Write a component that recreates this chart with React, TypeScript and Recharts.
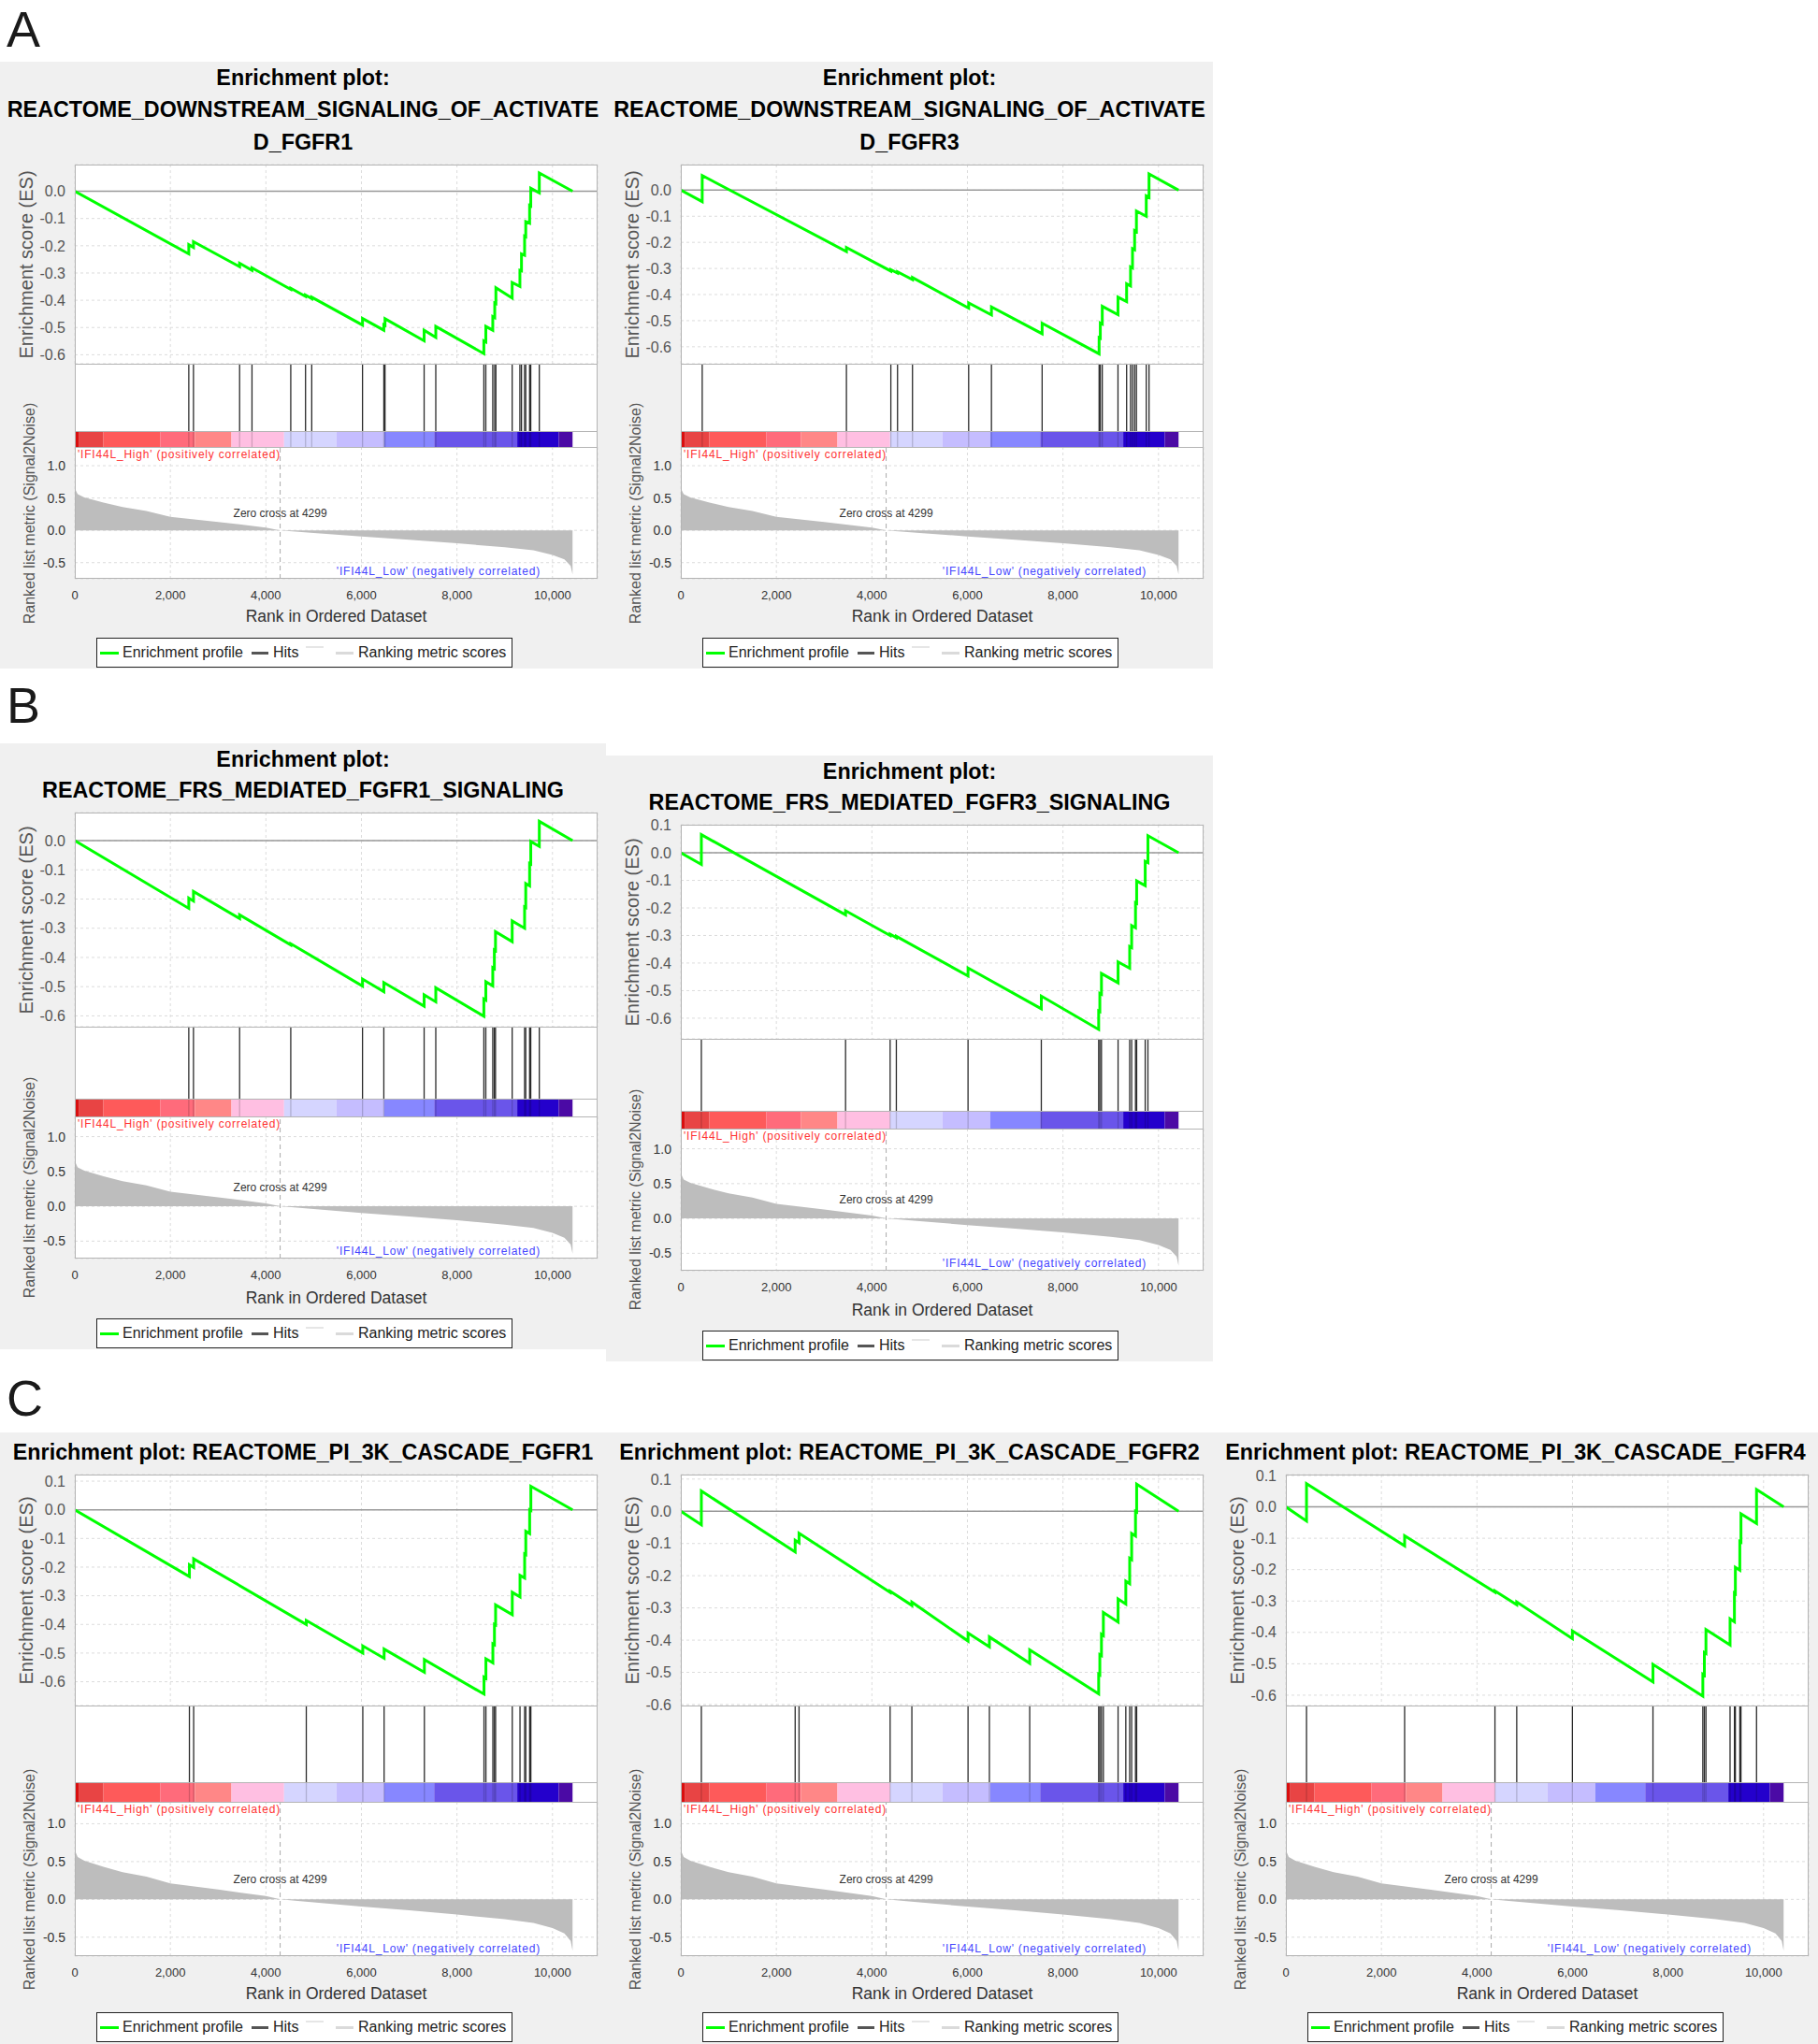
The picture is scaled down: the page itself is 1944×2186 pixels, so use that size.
import React from 'react';
import {
  ComposedChart,
  Line,
  Area,
  XAxis,
  YAxis,
  CartesianGrid,
  ReferenceLine,
  ReferenceArea,
} from 'recharts';

const FONT = "'Liberation Sans', Arial, Helvetica, sans-serif";

// shared ranked list (same dataset behind every panel)
const rankMax = 10944;
const rankTicks = [0, 2000, 4000, 6000, 8000, 10000];
const zeroCross = 4299;

const metricRanks = [0, 60, 200, 600, 1000, 1500, 2000, 3000, 4000, 4299, 5000, 6000, 7000, 8000, 9000, 9600, 10000, 10250, 10380, 10420];
const metricValues = [0.65, 0.56, 0.51, 0.43, 0.36, 0.3, 0.21, 0.13, 0.043, 0, -0.04, -0.095, -0.145, -0.2, -0.263, -0.31, -0.38, -0.45, -0.55, -0.68];
const metricTicks = [1.0, 0.5, 0.0, -0.5];
const metricDomain = [-0.75, 1.29];

// colour bar under the hits
const barEdges = [0, 92, 599, 1787, 2512, 3279, 4381, 5474, 6480, 7523, 9262, 10131, 10420];
const barColors = ['#d90f0f', '#e84444', '#fe5a5a', '#ff6b7b', '#ff8787', '#ffbfe2', '#d5d5ff', '#c5bdff', '#8787ff', '#6a55ea', '#2400cc', '#4b0aa5'];

const esTicksLow = [0, -0.1, -0.2, -0.3, -0.4, -0.5, -0.6];
const esTicksHigh = [0.1, 0, -0.1, -0.2, -0.3, -0.4, -0.5, -0.6];

// A: DOWNSTREAM_SIGNALING_OF_ACTIVATED_FGFR1
const a1Hits = [2386, 2484, 3450, 3709, 4521, 4830, 4960, 6023, 6469, 6494, 7313, 7557, 8563, 8604, 8750, 8791, 8815, 9156, 9318, 9351, 9416, 9440, 9521, 9545, 9724];
const a1Es = [
  [0, 0], [2386, -0.23], [2386, -0.196], [2484, -0.206], [2484, -0.185], [3450, -0.277], [3450, -0.264],
  [3709, -0.29], [3709, -0.281], [4521, -0.36], [4521, -0.356], [4830, -0.386], [4830, -0.381],
  [4960, -0.394], [4960, -0.389], [6023, -0.491], [6023, -0.467], [6469, -0.51], [6469, -0.49],
  [6494, -0.492], [6494, -0.468], [7313, -0.549], [7313, -0.51], [7557, -0.536], [7557, -0.496],
  [8563, -0.596], [8563, -0.549], [8604, -0.553], [8604, -0.496], [8750, -0.51], [8750, -0.46],
  [8791, -0.464], [8791, -0.41], [8815, -0.412], [8815, -0.354], [9156, -0.392], [9156, -0.335],
  [9318, -0.349], [9318, -0.29], [9351, -0.292], [9351, -0.23], [9416, -0.235], [9416, -0.165],
  [9440, -0.167], [9440, -0.111], [9521, -0.117], [9521, -0.052], [9545, -0.054], [9545, 0.011],
  [9724, -0.006], [9724, 0.067], [10420, 0],
];

// A: DOWNSTREAM_SIGNALING_OF_ACTIVATED_FGFR3
const a2Hits = [448, 3467, 4397, 4537, 4850, 6026, 6503, 7564, 8757, 8782, 8823, 9152, 9333, 9415, 9456, 9500, 9538, 9744, 9802];
const a2Es = [
  [0, 0], [448, -0.044], [448, 0.056], [3467, -0.235], [3467, -0.22], [4397, -0.31], [4397, -0.305],
  [4537, -0.318], [4537, -0.313], [4850, -0.343], [4850, -0.335], [6026, -0.452], [6026, -0.432],
  [6503, -0.478], [6503, -0.447], [7564, -0.55], [7564, -0.51], [8757, -0.627], [8757, -0.565],
  [8782, -0.567], [8782, -0.509], [8823, -0.513], [8823, -0.445], [9152, -0.477], [9152, -0.41],
  [9333, -0.427], [9333, -0.359], [9415, -0.367], [9415, -0.294], [9456, -0.298], [9456, -0.224],
  [9500, -0.228], [9500, -0.155], [9538, -0.159], [9538, -0.08], [9744, -0.1], [9744, -0.022],
  [9802, -0.028], [9802, 0.062], [10420, 0],
];

// B: FRS_MEDIATED_FGFR1_SIGNALING
const b1Hits = [2386, 2484, 3450, 4521, 6023, 6469, 7313, 7557, 8563, 8604, 8750, 8783, 8807, 9156, 9416, 9440, 9521, 9545, 9724];
const b1Es = [
  [0, 0], [2386, -0.232], [2386, -0.197], [2484, -0.207], [2484, -0.174], [3450, -0.267], [3450, -0.254],
  [4521, -0.357], [4521, -0.353], [6023, -0.498], [6023, -0.474], [6469, -0.517], [6469, -0.486],
  [7313, -0.567], [7313, -0.528], [7557, -0.552], [7557, -0.504], [8563, -0.601], [8563, -0.542],
  [8604, -0.546], [8604, -0.483], [8750, -0.497], [8750, -0.435], [8783, -0.438], [8783, -0.374],
  [8807, -0.376], [8807, -0.312], [9156, -0.346], [9156, -0.275], [9416, -0.3], [9416, -0.227],
  [9440, -0.229], [9440, -0.147], [9521, -0.155], [9521, -0.078], [9545, -0.08], [9545, -0.003],
  [9724, -0.02], [9724, 0.066], [10420, 0],
];

// B: FRS_MEDIATED_FGFR3_SIGNALING
const b2Hits = [430, 3449, 4382, 4512, 6013, 7547, 8748, 8772, 8806, 9154, 9397, 9438, 9519, 9543, 9722, 9779];
const b2Es = [
  [0, 0], [430, -0.042], [430, 0.066], [3449, -0.225], [3449, -0.21], [4382, -0.3], [4382, -0.295],
  [4512, -0.308], [4512, -0.303], [6013, -0.447], [6013, -0.418], [7547, -0.566], [7547, -0.52],
  [8748, -0.641], [8748, -0.574], [8772, -0.576], [8772, -0.51], [8806, -0.513], [8806, -0.438],
  [9154, -0.472], [9154, -0.396], [9397, -0.419], [9397, -0.34], [9438, -0.344], [9438, -0.264],
  [9519, -0.272], [9519, -0.181], [9543, -0.183], [9543, -0.102], [9722, -0.119], [9722, -0.031],
  [9779, -0.036], [9779, 0.062], [10420, 0],
];

// C: PI_3K_CASCADE_FGFR1
const c1Hits = [2399, 2488, 4846, 6029, 6475, 7318, 8566, 8606, 8752, 8785, 8809, 9158, 9320, 9417, 9441, 9522, 9547];
const c1Es = [
  [0, 0], [2399, -0.233], [2399, -0.192], [2488, -0.201], [2488, -0.171], [4846, -0.4], [4846, -0.386],
  [6029, -0.5], [6029, -0.475], [6475, -0.518], [6475, -0.486], [7318, -0.567], [7318, -0.523],
  [8566, -0.643], [8566, -0.584], [8606, -0.588], [8606, -0.52], [8752, -0.534], [8752, -0.468],
  [8785, -0.471], [8785, -0.4], [8809, -0.402], [8809, -0.332], [9158, -0.366], [9158, -0.288],
  [9320, -0.304], [9320, -0.229], [9417, -0.238], [9417, -0.154], [9441, -0.156], [9441, -0.075],
  [9522, -0.083], [9522, 0], [9547, -0.002], [9547, 0.082], [10420, 0],
];

// C: PI_3K_CASCADE_FGFR2
const c2Hits = [430, 2394, 2475, 4382, 4837, 6013, 6460, 7304, 8748, 8772, 8806, 8846, 9154, 9316, 9397, 9438, 9519, 9543];
const c2Es = [
  [0, 0], [430, -0.042], [430, 0.063], [2394, -0.126], [2394, -0.09], [2475, -0.098], [2475, -0.068],
  [4382, -0.252], [4382, -0.248], [4837, -0.292], [4837, -0.282], [6013, -0.403], [6013, -0.378],
  [6460, -0.421], [6460, -0.39], [7304, -0.472], [7304, -0.43], [8748, -0.567], [8748, -0.506],
  [8772, -0.508], [8772, -0.445], [8806, -0.448], [8806, -0.382], [8846, -0.386], [8846, -0.314],
  [9154, -0.344], [9154, -0.272], [9316, -0.288], [9316, -0.217], [9397, -0.225], [9397, -0.146],
  [9438, -0.15], [9438, -0.069], [9519, -0.077], [9519, 0], [9543, -0.002], [9543, 0.084], [10420, 0],
];

// C: PI_3K_CASCADE_FGFR4
const c3Hits = [432, 2486, 4377, 4833, 5998, 7685, 8729, 8761, 8794, 9299, 9390, 9410, 9503, 9527, 9853];
const c3Es = [
  [0, 0], [432, -0.045], [432, 0.074], [2486, -0.124], [2486, -0.092], [4377, -0.272], [4377, -0.268],
  [4833, -0.312], [4833, -0.303], [5998, -0.42], [5998, -0.395], [7685, -0.558], [7685, -0.502],
  [8729, -0.603], [8729, -0.533], [8761, -0.536], [8761, -0.464], [8794, -0.467], [8794, -0.391],
  [9299, -0.44], [9299, -0.357], [9390, -0.366], [9390, -0.275], [9410, -0.277], [9410, -0.193],
  [9503, -0.202], [9503, -0.11], [9527, -0.112], [9527, -0.022], [9853, -0.053], [9853, 0.055], [10420, 0],
];

// vertical layout inside a panel, by title height
const layouts = {
  three: { titleY: [17, 51, 86], esTop: 110, esBot: 323, hitsBot: 395, cbBot: 412, metBot: 553, xlabY: 593, legTop: 616, h: 649 },
  two: { titleY: [17, 50], esTop: 74, esBot: 303, hitsBot: 380, cbBot: 399, metBot: 551, xlabY: 593, legTop: 615, h: 648 },
  one: { titleY: [21], esTop: 45, esBot: 292, hitsBot: 374, cbBot: 395, metBot: 560, xlabY: 600, legTop: 620, h: 654 },
};

const panels = [
  { x: 0, y: 66, w: 648, dx: 0, layout: 'three', title: ['Enrichment plot:', 'REACTOME_DOWNSTREAM_SIGNALING_OF_ACTIVATE', 'D_FGFR1'], hits: a1Hits, es: a1Es, esDomain: [-0.633, 0.098], esTicks: esTicksLow },
  { x: 648, y: 66, w: 649, dx: 0, layout: 'three', title: ['Enrichment plot:', 'REACTOME_DOWNSTREAM_SIGNALING_OF_ACTIVATE', 'D_FGFR3'], hits: a2Hits, es: a2Es, esDomain: [-0.665, 0.098], esTicks: esTicksLow },
  { x: 0, y: 795, w: 648, dx: 0, layout: 'two', title: ['Enrichment plot:', 'REACTOME_FRS_MEDIATED_FGFR1_SIGNALING'], hits: b1Hits, es: b1Es, esDomain: [-0.637, 0.096], esTicks: esTicksLow },
  { x: 648, y: 808, w: 649, dx: 0, layout: 'two', title: ['Enrichment plot:', 'REACTOME_FRS_MEDIATED_FGFR3_SIGNALING'], hits: b2Hits, es: b2Es, esDomain: [-0.675, 0.102], esTicks: esTicksHigh },
  { x: 0, y: 1532, w: 648, dx: 0, layout: 'one', title: ['Enrichment plot: REACTOME_PI_3K_CASCADE_FGFR1'], hits: c1Hits, es: c1Es, esDomain: [-0.683, 0.123], esTicks: esTicksHigh },
  { x: 648, y: 1532, w: 649, dx: 0, layout: 'one', title: ['Enrichment plot: REACTOME_PI_3K_CASCADE_FGFR2'], hits: c2Hits, es: c2Es, esDomain: [-0.603, 0.114], esTicks: esTicksHigh },
  { x: 1297, y: 1532, w: 647, dx: -2, layout: 'one', title: ['Enrichment plot: REACTOME_PI_3K_CASCADE_FGFR4'], hits: c3Hits, es: c3Es, esDomain: [-0.633, 0.103], esTicks: esTicksHigh },
];

const panelLetters = [
  { text: 'A', top: 4 },
  { text: 'B', top: 727 },
  { text: 'C', top: 1468 },
];

const PLOT_L = 80;
const PLOT_R = 639;
const BORDER = '#b4b4b4';
const PAD = 12;

const metricData = metricRanks.map((rank, i) => ({ rank, m: metricValues[i] }));

function RotLabel({ cx, cy, size, text }: { cx: number; cy: number; size: number; text: string }) {
  return (
    <div
      style={{
        position: 'absolute',
        left: cx - 160,
        top: cy - size / 2,
        width: 320,
        height: size,
        lineHeight: `${size}px`,
        fontSize: size,
        color: '#555',
        textAlign: 'center',
        whiteSpace: 'nowrap',
        transform: 'rotate(-90deg)',
      }}
    >
      {text}
    </div>
  );
}

function GseaPanel({ p }: { p: any }) {
  const L = layouts[p.layout as keyof typeof layouts];
  const pl = PLOT_L + p.dx;
  const pr = PLOT_R + p.dx;
  const rightM = p.w - pr;
  const esData = p.es.map(([rank, es]: number[]) => ({ rank, es }));
  const hitData = p.hits.map((rank: number) => ({ rank, v: 0.5 }));
  const cbFrac = (L.cbBot - L.hitsBot) / (L.cbBot - L.esBot);
  const plotW = pr - pl;

  return (
    <div style={{ position: 'absolute', left: p.x, top: p.y, width: p.w, height: L.h, background: '#f0f0f0', fontFamily: FONT }}>
      {p.title.map((t: string, i: number) => (
        <div
          key={i}
          style={{
            position: 'absolute',
            left: -20,
            width: p.w + 40,
            top: L.titleY[i] - 12,
            textAlign: 'center',
            fontSize: 24,
            fontWeight: 700,
            lineHeight: '24px',
            whiteSpace: 'nowrap',
            color: '#000',
            transform: 'scaleX(0.972)',
          }}
        >
          {t}
        </div>
      ))}

      {/* white plot backgrounds */}
      <div style={{ position: 'absolute', left: pl, top: L.esTop, width: plotW, height: L.metBot - L.esTop, background: '#fff' }} />

      {/* Enrichment score */}
      <div style={{ position: 'absolute', left: 0, top: L.esTop - PAD }}>
        <ComposedChart width={p.w} height={L.esBot - L.esTop + 2 * PAD} data={esData} margin={{ top: PAD, right: rightM, bottom: PAD, left: pl - 60 }}>
          <CartesianGrid stroke="#dcdcdc" strokeDasharray="3 3" />
          <XAxis type="number" dataKey="rank" domain={[0, rankMax]} ticks={rankTicks} hide allowDataOverflow />
          <YAxis
            type="number"
            domain={p.esDomain}
            ticks={p.esTicks}
            width={60}
            interval={0}
            allowDataOverflow
            axisLine={false}
            tickLine={false}
            tickMargin={4}
            tickFormatter={(v: number) => v.toFixed(1)}
            tick={{ fontSize: 16, fill: '#555', fontFamily: FONT }}
          />
          <ReferenceLine y={0} stroke="#999" strokeWidth={1.5} />
          <Line type="linear" dataKey="es" stroke="#00ff00" strokeWidth={3} dot={false} isAnimationActive={false} />
        </ComposedChart>
      </div>

      {/* Hits + colour bar */}
      <div style={{ position: 'absolute', left: 0, top: L.esBot }}>
        <ComposedChart width={p.w} height={L.cbBot - L.esBot} data={hitData} margin={{ top: 0, right: rightM, bottom: 0, left: pl }}>
          <XAxis type="number" dataKey="rank" domain={[0, rankMax]} hide allowDataOverflow />
          <YAxis type="number" domain={[0, 1]} hide allowDataOverflow />
          {barColors.map((c, i) => (
            <ReferenceArea key={`cb${i}`} x1={barEdges[i]} x2={barEdges[i + 1]} y1={0} y2={cbFrac} fill={c} fillOpacity={1} stroke="none" />
          ))}
          {p.hits.map((h: number, i: number) => (
            <ReferenceLine key={`h${i}`} segment={[{ x: h, y: cbFrac }, { x: h, y: 1 }]} stroke="#2a2a2a" strokeWidth={1.3} />
          ))}
          {p.hits.map((h: number, i: number) => (
            <ReferenceLine key={`hc${i}`} segment={[{ x: h, y: 0 }, { x: h, y: cbFrac }]} stroke="#000" strokeOpacity={0.18} strokeWidth={1.3} />
          ))}
        </ComposedChart>
      </div>

      {/* Ranked list metric */}
      <div style={{ position: 'absolute', left: 0, top: L.cbBot }}>
        <ComposedChart width={p.w} height={L.metBot - L.cbBot + 30} data={metricData} margin={{ top: 0, right: rightM, bottom: 0, left: pl - 60 }}>
          <CartesianGrid stroke="#dcdcdc" strokeDasharray="3 3" />
          <XAxis
            type="number"
            dataKey="rank"
            domain={[0, rankMax]}
            ticks={rankTicks}
            interval={0}
            height={30}
            allowDataOverflow
            axisLine={false}
            tickLine={false}
            tickMargin={7}
            tickFormatter={(v: number) => v.toLocaleString('en-US')}
            tick={{ fontSize: 13, fill: '#333', fontFamily: FONT }}
          />
          <YAxis
            type="number"
            domain={metricDomain}
            ticks={metricTicks}
            width={60}
            interval={0}
            allowDataOverflow
            axisLine={false}
            tickLine={false}
            tickMargin={4}
            tickFormatter={(v: number) => v.toFixed(1)}
            tick={{ fontSize: 14, fill: '#333', fontFamily: FONT }}
          />
          <Area type="linear" dataKey="m" baseValue={0} stroke="none" fill="#bdbdbd" fillOpacity={1} isAnimationActive={false} />
          <ReferenceLine
            x={zeroCross}
            stroke="#aaa"
            strokeDasharray="5 4"
            label={{ value: 'Zero cross at 4299', position: 'center', fontSize: 12, fill: '#333', fontFamily: FONT }}
          />
        </ComposedChart>
      </div>

      {/* borders */}
      <div style={{ position: 'absolute', left: pl, top: L.esTop, width: plotW, height: L.metBot - L.esTop, border: `1px solid ${BORDER}`, boxSizing: 'border-box' }} />
      {[L.esBot, L.hitsBot, L.cbBot].map((y) => (
        <div key={y} style={{ position: 'absolute', left: pl, top: y, width: plotW, height: 0, borderTop: `1px solid ${BORDER}` }} />
      ))}

      {/* annotations */}
      <div style={{ position: 'absolute', left: pl + 3, top: L.cbBot + 1, fontSize: 12, lineHeight: '14px', letterSpacing: 0.8, color: '#ff3333', whiteSpace: 'nowrap' }}>
        'IFI44L_High' (positively correlated)
      </div>
      <div style={{ position: 'absolute', right: p.w - (578 + p.dx), top: L.metBot - 15, fontSize: 12, lineHeight: '14px', letterSpacing: 0.8, color: '#4545ff', whiteSpace: 'nowrap' }}>
        'IFI44L_Low' (negatively correlated)
      </div>

      <RotLabel cx={28 + p.dx} cy={(L.esTop + L.esBot) / 2} size={20} text="Enrichment score (ES)" />
      <RotLabel cx={32 + p.dx} cy={(L.cbBot + L.metBot) / 2} size={16} text="Ranked list metric (Signal2Noise)" />

      <div style={{ position: 'absolute', left: pl, width: plotW, top: L.xlabY - 9, fontSize: 17.5, lineHeight: '18px', textAlign: 'center', color: '#333', whiteSpace: 'nowrap' }}>
        Rank in Ordered Dataset
      </div>

      {/* legend */}
      <div style={{ position: 'absolute', left: 103 + p.dx, top: L.legTop, width: 445, height: 32, border: '1.5px solid #222', boxSizing: 'border-box', background: '#fff', fontSize: 16, color: '#222' }}>
        <div style={{ position: 'absolute', left: 3, top: 14, width: 20, height: 3, background: '#00ff00' }} />
        <div style={{ position: 'absolute', left: 27, top: 6, lineHeight: '18px', whiteSpace: 'nowrap' }}>Enrichment profile</div>
        <div style={{ position: 'absolute', left: 165, top: 14, width: 18, height: 3, background: '#555' }} />
        <div style={{ position: 'absolute', left: 188, top: 6, lineHeight: '18px', whiteSpace: 'nowrap' }}>Hits</div>
        <div style={{ position: 'absolute', left: 223, top: 8, width: 19, height: 2, background: '#e6e6e6' }} />
        <div style={{ position: 'absolute', left: 255, top: 14, width: 19, height: 3, background: '#dadada' }} />
        <div style={{ position: 'absolute', left: 279, top: 6, lineHeight: '18px', whiteSpace: 'nowrap' }}>Ranking metric scores</div>
      </div>
    </div>
  );
}

export default function App() {
  return (
    <div style={{ position: 'absolute', left: 0, top: 0, width: 1944, height: 2186, background: '#fff', overflow: 'hidden', fontFamily: FONT }}>
      {panelLetters.map((l) => (
        <div key={l.text} style={{ position: 'absolute', left: 7, top: l.top, fontSize: 54, lineHeight: '54px', color: '#1a1a1a' }}>
          {l.text}
        </div>
      ))}
      {panels.map((p, i) => (
        <GseaPanel key={i} p={p} />
      ))}
    </div>
  );
}
